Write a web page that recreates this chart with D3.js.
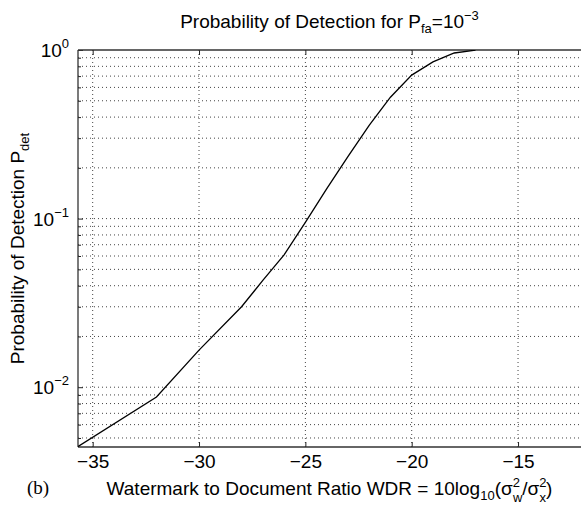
<!DOCTYPE html>
<html>
<head>
<meta charset="utf-8">
<script src="https://cdn.jsdelivr.net/npm/d3@7"></script>
<style>
  body { margin: 0; background: #fff; }
  svg text { font-family: "Liberation Sans", Arial, Helvetica, sans-serif; fill: #000; }
  .grid line { stroke: #444; stroke-width: 1; stroke-dasharray: 1, 3; }
  .axis path { display: none; }
  .axis line { stroke: #222; stroke-width: 1; }
</style>
</head>
<body>
<div class="chart"></div>
<script>
// values
const WDR = [-36, -32, -30, -28, -27, -26, -25, -24, -23, -22, -21, -20, -19, -18, -17];
const PDET = [0.0042, 0.00875, 0.0166, 0.030, 0.043, 0.061, 0.095, 0.15, 0.233, 0.357, 0.525, 0.71, 0.85, 0.96, 0.998];
const X_TICKS = [-35, -30, -25, -20, -15];
const Y_EXPONENTS = [0, -1, -2];
const X_DOMAIN = [-35.69, -12.04];
const Y_DOMAIN = [0.00442, 1];

const WIDTH = 581;
const HEIGHT = 508;
const margin = { top: 50, right: 0, bottom: 61, left: 78 };
const FONT = 19;
const SMALL = 13;

const svg = d3.select(".chart")
  .append("svg")
  .attr("width", WIDTH)
  .attr("height", HEIGHT);

const x = d3.scaleLinear()
  .domain(X_DOMAIN)
  .range([margin.left, WIDTH - margin.right]);

const y = d3.scaleLog()
  .domain(Y_DOMAIN)
  .range([HEIGHT - margin.bottom, margin.top]);

const x0 = x.range()[0], x1 = x.range()[1];
const y0 = y.range()[0], y1 = y.range()[1];

// minor log values 1..9 in each decade inside the domain
const minorY = [];
[-3, -2, -1].forEach(e => {
  for (let m = 1; m <= 9; m++) {
    const v = m * Math.pow(10, e);
    if (v >= Y_DOMAIN[0] && v <= Y_DOMAIN[1]) minorY.push(v);
  }
});
const majorY = Y_EXPONENTS.map(e => Math.pow(10, e));

// dotted grid
const grid = svg.append("g").attr("class", "grid");
grid.selectAll(".gx")
  .data(X_TICKS)
  .join("line")
  .attr("x1", d => x(d)).attr("x2", d => x(d))
  .attr("y1", y0).attr("y2", y1);
grid.selectAll(".gy")
  .data(minorY.filter(v => v < 1))
  .join("line")
  .attr("x1", x0).attr("x2", x1)
  .attr("y1", d => y(d)).attr("y2", d => y(d));

// ticks (bottom + top for x, left for y)
svg.append("g")
  .attr("class", "axis x-axis")
  .attr("transform", `translate(0, ${y0})`)
  .call(d3.axisBottom(x).tickValues(X_TICKS).tickSize(-5).tickPadding(7.5)
    .tickFormat(d => d3.format("d")(d).replace("-", "\u2212")))
  .call(g => g.selectAll("text").attr("font-size", FONT).attr("fill", "#000"));

svg.append("g")
  .attr("class", "axis")
  .attr("transform", `translate(0, ${y1})`)
  .call(d3.axisTop(x).tickValues(X_TICKS).tickSize(-5).tickFormat(""));

svg.append("g")
  .attr("class", "axis")
  .attr("transform", `translate(${x0}, 0)`)
  .call(d3.axisLeft(y).tickValues(minorY.filter(v => majorY.indexOf(v) < 0)).tickSize(-3).tickFormat(""));

svg.append("g")
  .attr("class", "axis")
  .attr("transform", `translate(${x0}, 0)`)
  .call(d3.axisLeft(y).tickValues(majorY).tickSize(-5).tickFormat(""));

// y tick labels 10^e
const yLabels = svg.append("g").attr("class", "y-labels");
Y_EXPONENTS.forEach(e => {
  const t = yLabels.append("text")
    .attr("x", x0 - 9)
    .attr("y", y(Math.pow(10, e)) + 7)
    .attr("text-anchor", "end")
    .attr("font-size", FONT);
  t.append("tspan").text("10");
  t.append("tspan").attr("dy", -9).attr("font-size", SMALL)
    .text(String(e).replace("-", "\u2212"));
});

// box lines
svg.append("line")
  .attr("x1", x0).attr("x2", x1).attr("y1", y1).attr("y2", y1)
  .attr("stroke", "#333").attr("stroke-width", 1.3);
svg.append("line")
  .attr("x1", x0).attr("x2", x1).attr("y1", y0).attr("y2", y0)
  .attr("stroke", "#333").attr("stroke-width", 1.3);
svg.append("line")
  .attr("x1", x0).attr("x2", x0).attr("y1", y0).attr("y2", y1)
  .attr("stroke", "#333").attr("stroke-width", 1.3);

// curve
svg.append("clipPath").attr("id", "plot-clip")
  .append("rect")
  .attr("x", x0).attr("y", y1)
  .attr("width", x1 - x0).attr("height", y0 - y1);

const line = d3.line()
  .x((d, i) => x(WDR[i]))
  .y((d, i) => y(PDET[i]));

svg.append("path")
  .datum(PDET)
  .attr("clip-path", "url(#plot-clip)")
  .attr("d", line)
  .attr("fill", "none")
  .attr("stroke", "#000")
  .attr("stroke-width", 1.3);

// title
const title = svg.append("text")
  .attr("x", (x0 + x1) / 2)
  .attr("y", 28)
  .attr("text-anchor", "middle")
  .attr("font-size", FONT);
title.append("tspan").text("Probability of Detection for P");
title.append("tspan").attr("dy", 5).attr("font-size", SMALL).text("fa");
title.append("tspan").attr("dy", -5).text("=10");
title.append("tspan").attr("dy", -8).attr("font-size", SMALL).text("\u22123");

// x axis label, sigma with stacked super/subscripts
const xl = svg.append("text")
  .attr("x", (x0 + x1) / 2)
  .attr("y", 495)
  .attr("text-anchor", "middle")
  .attr("font-size", FONT);
xl.append("tspan").text("Watermark to Document Ratio WDR = 10log");
xl.append("tspan").attr("dy", 5).attr("font-size", SMALL).text("10");
xl.append("tspan").attr("dy", -5).text("(\u03c3");
xl.append("tspan").attr("dy", -8).attr("font-size", SMALL).text("2");
xl.append("tspan").attr("dy", 15).attr("dx", -7).attr("font-size", SMALL).text("w");
xl.append("tspan").attr("dy", -7).text("/\u03c3");
xl.append("tspan").attr("dy", -8).attr("font-size", SMALL).text("2");
xl.append("tspan").attr("dy", 15).attr("dx", -7).attr("font-size", SMALL).text("x");
xl.append("tspan").attr("dy", -7).text(")");

// y axis label
const yl = svg.append("text")
  .attr("transform", `translate(24, ${(y0 + y1) / 2}) rotate(-90)`)
  .attr("text-anchor", "middle")
  .attr("font-size", FONT);
yl.append("tspan").text("Probability of Detection P");
yl.append("tspan").attr("dy", 5).attr("font-size", SMALL).text("det");

// panel tag
svg.append("text")
  .attr("x", 27)
  .attr("y", 494)
  .attr("font-size", FONT)
  .style("font-family", "'Liberation Serif', 'Times New Roman', serif")
  .text("(b)");
</script>
</body>
</html>
